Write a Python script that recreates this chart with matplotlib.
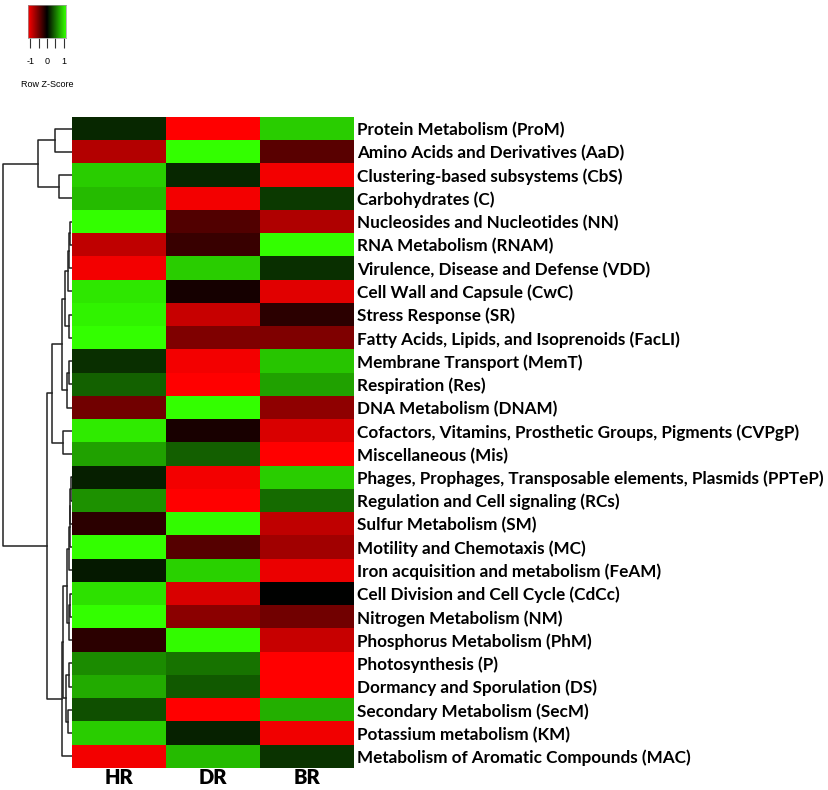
import numpy as np
import matplotlib
matplotlib.use("Agg")
import matplotlib.pyplot as plt
from matplotlib.colors import LinearSegmentedColormap

# -----------------------------
# Data
# -----------------------------
columns = ["HR", "DR", "BR"]

categories = [
    "Protein Metabolism (ProM)",
    "Amino Acids and Derivatives (AaD)",
    "Clustering-based subsystems (CbS)",
    "Carbohydrates (C)",
    "Nucleosides and Nucleotides (NN)",
    "RNA Metabolism (RNAM)",
    "Virulence, Disease and Defense (VDD)",
    "Cell Wall and Capsule (CwC)",
    "Stress Response (SR)",
    "Fatty Acids, Lipids, and Isoprenoids (FacLI)",
    "Membrane Transport (MemT)",
    "Respiration (Res)",
    "DNA Metabolism (DNAM)",
    "Cofactors, Vitamins, Prosthetic Groups, Pigments (CVPgP)",
    "Miscellaneous (Mis)",
    "Phages, Prophages, Transposable elements, Plasmids (PPTeP)",
    "Regulation and Cell signaling (RCs)",
    "Sulfur Metabolism (SM)",
    "Motility and Chemotaxis (MC)",
    "Iron acquisition and metabolism (FeAM)",
    "Cell Division and Cell Cycle (CdCc)",
    "Nitrogen Metabolism (NM)",
    "Phosphorus Metabolism (PhM)",
    "Photosynthesis (P)",
    "Dormancy and Sporulation (DS)",
    "Secondary Metabolism (SecM)",
    "Potassium metabolism (KM)",
    "Metabolism of Aromatic Compounds (MAC)",
]

# row z-scores (estimated from the colours)
hr = [0.15, -0.70, 0.80, 0.73, 1.00, -0.75, -0.95, 0.90, 0.95, 1.00, 0.18, 0.38, -0.44, 0.92,
      0.63, 0.12, 0.57, -0.17, 1.00, 0.10, 0.88, 1.00, -0.17, 0.54, 0.67, 0.31, 0.80, -0.95]
dr = [-1.00, 1.00, 0.15, -0.95, -0.32, -0.22, 0.80, -0.08, -0.78, -0.50, -0.95, -1.00, 1.00, -0.10,
      0.37, -0.95, -1.00, 0.98, -0.33, 0.82, -0.85, -0.54, 0.98, 0.45, 0.35, -1.00, 0.13, 0.73]
br = [0.80, -0.35, -0.95, 0.22, -0.68, 1.00, 0.18, -0.88, -0.17, -0.50, 0.77, 0.63, -0.56, -0.85,
      -1.00, 0.80, 0.42, -0.75, -0.63, -0.92, 0.00, -0.44, -0.78, -1.00, -1.00, 0.68, -0.94, 0.20]

# row dendrogram: (left node, right node, height); leaves are 0..27, merges get 28, 29, ...
linkage = [
    (0, 1, 17), (2, 3, 13), (28, 29, 34),
    (4, 5, 1.5), (31, 6, 2.5), (32, 7, 3.5), (8, 9, 3), (33, 34, 7),
    (10, 11, 3), (36, 12, 5), (35, 37, 10), (13, 14, 9), (38, 39, 20),
    (15, 16, 1), (41, 17, 1.5), (42, 18, 2), (43, 19, 2.5),
    (20, 21, 2), (45, 22, 3), (44, 46, 5),
    (23, 24, 3), (25, 26, 3.5), (48, 49, 6), (47, 50, 9), (51, 27, 10),
    (40, 52, 25), (30, 53, 69),
]

# -----------------------------
# Figure
# -----------------------------
W, H = 829, 790
fig = plt.figure(figsize=(W / 100, H / 100), dpi=100)

def px_axes(x0, y0, x1, y1):
    return fig.add_axes([x0 / W, 1 - y1 / H, (x1 - x0) / W, (y1 - y0) / H])

cmap = LinearSegmentedColormap.from_list("redgreen", ["#ff0000", "#000000", "#33ff00"])
data = np.array([hr, dr, br]).T
n = len(categories)

# heatmap
ax = px_axes(72, 117, 354, 768)
ax.imshow(data, cmap=cmap, vmin=-1, vmax=1, aspect="auto", interpolation="nearest")
ax.set_xticks(range(len(columns)))
ax.set_xticklabels(columns, fontsize=14.5, fontweight="heavy", family="Lato")
ax.set_yticks(range(n))
ax.set_yticklabels(categories, fontsize=12.3, fontweight="bold", family="Lato")
ax.yaxis.tick_right()
ax.tick_params(length=0)
ax.tick_params(axis="y", pad=2)
ax.tick_params(axis="x", pad=0)
for s in ax.spines.values():
    s.set_visible(False)

# dendrogram
dax = px_axes(0, 117, 72, 768)
ypos = {i: float(i) for i in range(n)}
hgt = {i: 0.0 for i in range(n)}
for k, (a, b, h) in enumerate(linkage):
    node = n + k
    dax.plot([hgt[a], h, h, hgt[b]], [ypos[a], ypos[a], ypos[b], ypos[b]],
             color="#222222", lw=1.1)
    ypos[node] = (ypos[a] + ypos[b]) / 2
    hgt[node] = h
dax.set_xlim(72, 0)
dax.set_ylim(n - 0.5, -0.5)
dax.axis("off")

# colour key
key_font = ["Liberation Sans Narrow", "Liberation Sans"]
kax = px_axes(28, 5, 66, 38)
grad = np.linspace(-1, 1, 256).reshape(1, -1)
kax.imshow(grad, cmap=cmap, aspect="auto", extent=[-1.15, 1.15, 0, 1])
kax.set_xlim(-1.15, 1.15)
kax.set_yticks([])
kax.set_xticks([-1, -0.5, 0, 0.5, 1])
kax.set_xticklabels(["-1", "", "0", "", "1"], fontsize=6.5, family=key_font)
kax.tick_params(axis="x", length=7, width=0.8, pad=7, color="#333333")
for s in kax.spines.values():
    s.set_color("#999999")
    s.set_linewidth(0.5)
kax.set_xlabel("Row Z-Score", fontsize=6.5, family=key_font, labelpad=10)

fig.savefig("out.png", dpi=100)
